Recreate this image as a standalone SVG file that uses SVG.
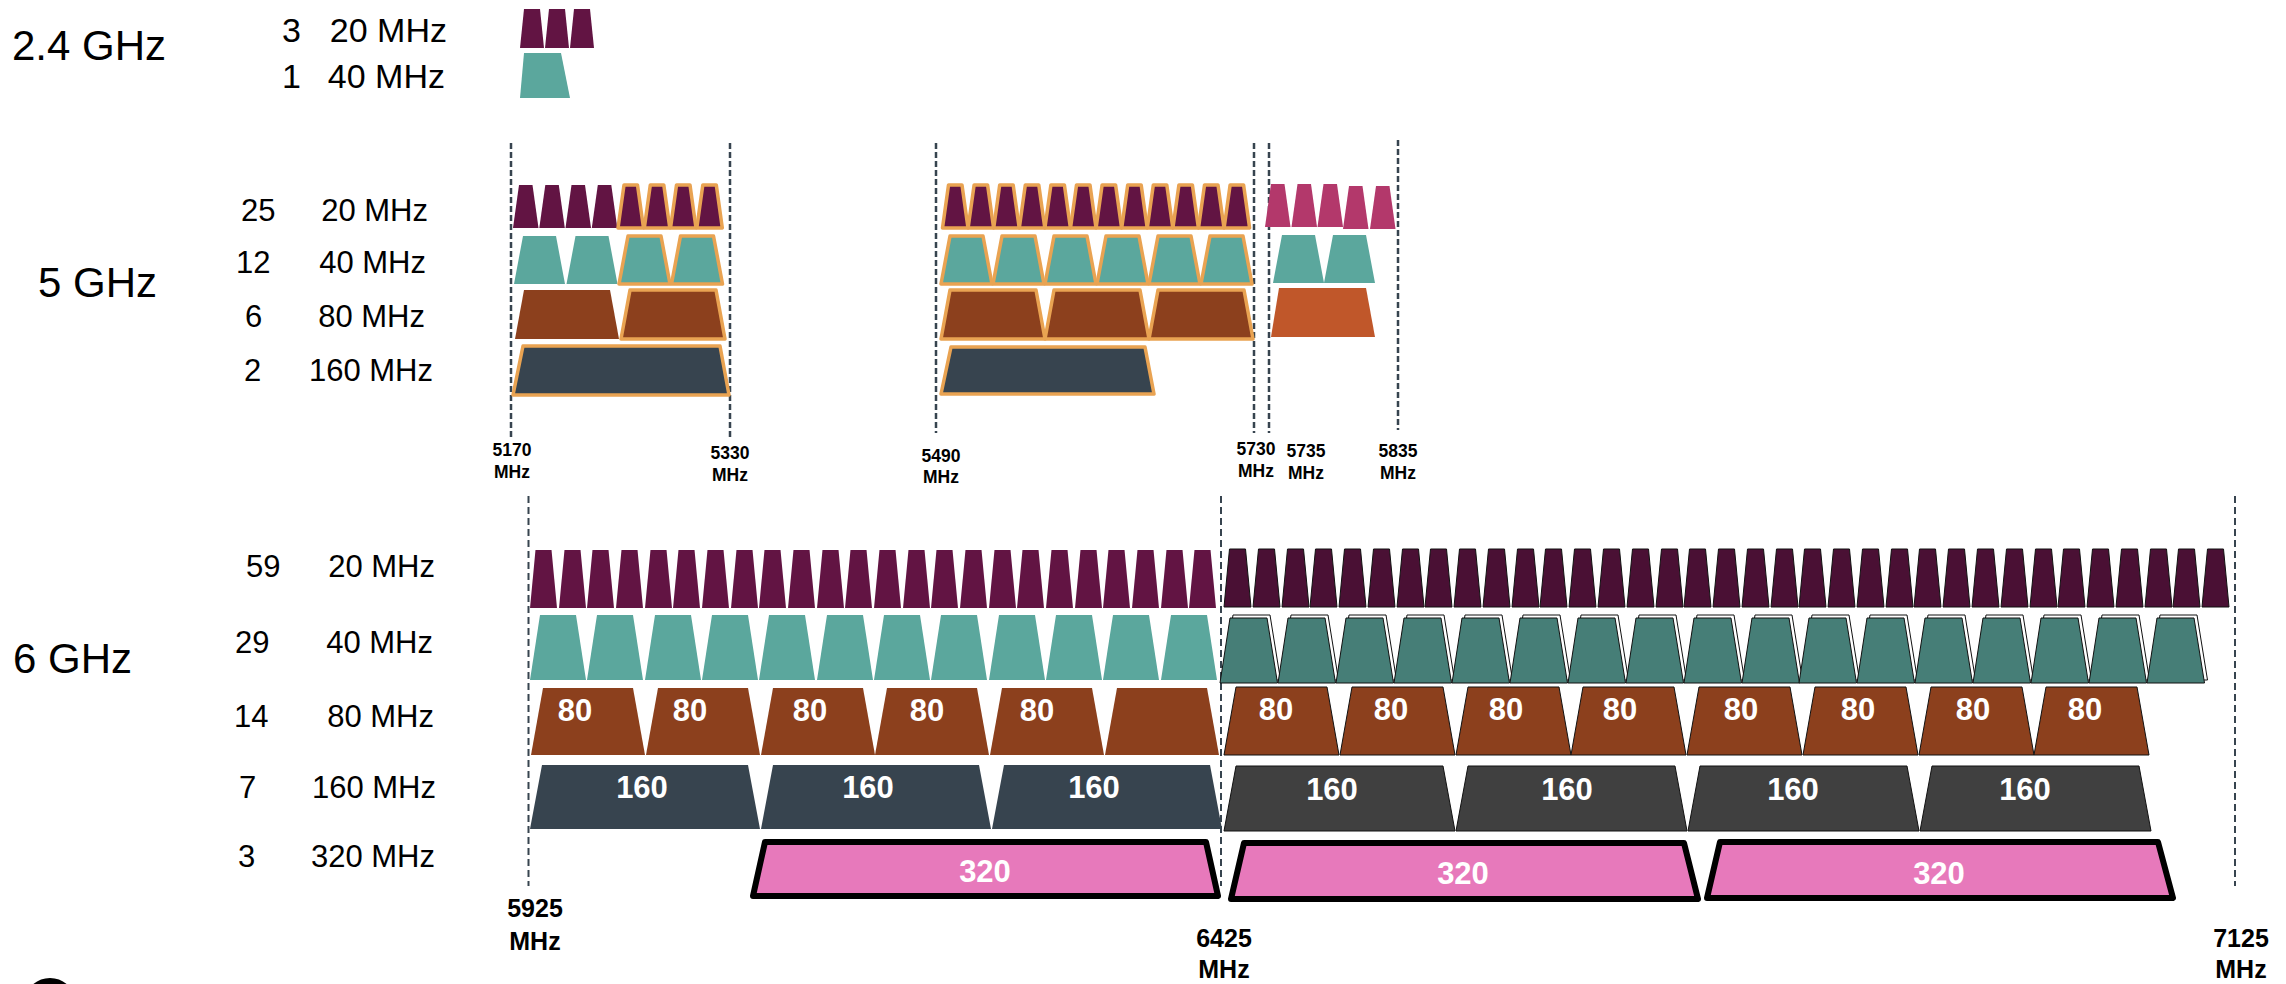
<svg xmlns="http://www.w3.org/2000/svg" width="2286" height="984" viewBox="0 0 2286 984">
<style>
.p{fill:#621443}
.pd{fill:#4A1034;stroke:#111;stroke-width:1}
.t{fill:#5BA79D}
.td{fill:#467E77;stroke:#111;stroke-width:1}
.sh{fill:#fff;stroke:#111;stroke-width:1}
.b{fill:#8C401D}
.bd{fill:#8C401D;stroke:#111;stroke-width:1}
.d{fill:#37444F}
.dd{fill:#404040;stroke:#111;stroke-width:1}
.o{stroke:#E9A352;stroke-width:3.5;stroke-linejoin:round}
.pk{fill:#B3386B}
.or{fill:#C0572A}
.x{fill:#E779BB;stroke:#000;stroke-width:6;stroke-linejoin:round}
.g5{stroke:#37444F;stroke-width:2.5;stroke-dasharray:6 3;fill:none}
.g6{stroke:#37444F;stroke-width:2;stroke-dasharray:7 4;fill:none}
.band{font-family:"Liberation Sans",Arial,sans-serif;font-size:42px;fill:#000}
.lab{font-family:"Liberation Sans",Arial,sans-serif;font-size:31px;fill:#000}
.lr{font-family:"Liberation Sans",Arial,sans-serif;font-size:31px;fill:#000;text-anchor:end}
.lab24{font-family:"Liberation Sans",Arial,sans-serif;font-size:34px;fill:#000}
.lr24{font-family:"Liberation Sans",Arial,sans-serif;font-size:34px;fill:#000;text-anchor:end}
.f5{font-family:"Liberation Sans",Arial,sans-serif;font-size:17.5px;font-weight:bold;fill:#000;text-anchor:middle}
.f6{font-family:"Liberation Sans",Arial,sans-serif;font-size:25px;font-weight:bold;fill:#000;text-anchor:middle}
.w{font-family:"Liberation Sans",Arial,sans-serif;font-size:31px;font-weight:bold;fill:#fff;text-anchor:middle}
</style>
<defs>
<polygon id="a20" points="0,39 4,0 20,0 24,39"/>
<polygon id="f20" points="0,43 6,0 19.5,0 25.5,43"/>
<polygon id="f40" points="0,48 9,0 42,0 51,48"/>
<polygon id="f80" points="0,49 9,0 95,0 104,49"/>
<polygon id="s20" points="0,58 5.5,0 21.5,0 27,58"/>
<polygon id="s40" points="0,65 10,0 46,0 56,65"/>
<g id="s40u"><polygon class="sh" points="3,62 13,-3 50,-3 60.5,62"/><polygon class="td" points="0,65 10,0 47,0 57.5,65"/></g>
<polygon id="s80" points="0,67 12,0 102,0 114,67"/>
<polygon id="s80u" points="0,68 12,0 103,0 115,68"/>
<polygon id="s160" points="0,64 12,0 218,0 230,64"/>
<polygon id="s160u" points="0,65 12,0 219,0 231,65"/>
</defs>
<rect width="2286" height="984" fill="#fff"/>

<g id="guides">
<line class="g5" x1="511" y1="143" x2="511" y2="437"/>
<line class="g5" x1="730" y1="143" x2="730" y2="437"/>
<line class="g5" x1="936" y1="143" x2="936" y2="433"/>
<line class="g5" x1="1254" y1="143" x2="1254" y2="433"/>
<line class="g5" x1="1269" y1="143" x2="1269" y2="433"/>
<line class="g5" x1="1398" y1="140" x2="1398" y2="430"/>
<line class="g6" x1="528.5" y1="496" x2="528.5" y2="886"/>
<line class="g6" x1="1221" y1="496" x2="1221" y2="886"/>
<line class="g6" x1="2235" y1="496" x2="2235" y2="886"/>
</g>

<g id="band-24">
<text class="band" x="12" y="60">2.4 GHz</text>
<g id="b24-20">
<text class="lab24" x="282" y="42">3</text><text class="lr24" x="447" y="42">20 MHz</text>
<use href="#a20" class="p" x="520" y="9"/><use href="#a20" class="p" x="545" y="9"/><use href="#a20" class="p" x="570" y="9"/>
</g>
<g id="b24-40">
<text class="lab24" x="282" y="88">1</text><text class="lr24" x="445" y="88">40 MHz</text>
<polygon class="t" points="520,98 524,53 561,53 570,98"/>
</g>
</g>

<g id="band-5">
<text class="band" x="38" y="297">5 GHz</text>
<g id="b5-20">
<text class="lab" x="241" y="221">25</text><text class="lr" x="428" y="221">20 MHz</text>
<use href="#f20" class="p" x="513" y="185"/><use href="#f20" class="p" x="539.3" y="185"/><use href="#f20" class="p" x="565.5" y="185"/><use href="#f20" class="p" x="591.8" y="185"/>
<use href="#f20" class="p o" x="618" y="185"/><use href="#f20" class="p o" x="644.3" y="185"/><use href="#f20" class="p o" x="670.5" y="185"/><use href="#f20" class="p o" x="696.8" y="185"/>
<use href="#f20" class="p o" x="942.5" y="185"/><use href="#f20" class="p o" x="968.1" y="185"/><use href="#f20" class="p o" x="993.7" y="185"/><use href="#f20" class="p o" x="1019.3" y="185"/><use href="#f20" class="p o" x="1044.9" y="185"/><use href="#f20" class="p o" x="1070.5" y="185"/><use href="#f20" class="p o" x="1096.1" y="185"/><use href="#f20" class="p o" x="1121.7" y="185"/><use href="#f20" class="p o" x="1147.3" y="185"/><use href="#f20" class="p o" x="1172.9" y="185"/><use href="#f20" class="p o" x="1198.5" y="185"/><use href="#f20" class="p o" x="1224.1" y="185"/>
<use href="#f20" class="pk" x="1265" y="184"/><use href="#f20" class="pk" x="1291.5" y="184"/><use href="#f20" class="pk" x="1317.5" y="184"/><use href="#f20" class="pk" x="1343" y="186"/><use href="#f20" class="pk" x="1370" y="186"/>
</g>
<g id="b5-40">
<text class="lab" x="236" y="273">12</text><text class="lr" x="426" y="273">40 MHz</text>
<use href="#f40" class="t" x="514" y="236"/><use href="#f40" class="t" x="566.5" y="236"/>
<use href="#f40" class="t o" x="619" y="236"/><use href="#f40" class="t o" x="671.5" y="236"/>
<use href="#f40" class="t o" x="941" y="236"/><use href="#f40" class="t o" x="993" y="236"/><use href="#f40" class="t o" x="1045" y="236"/><use href="#f40" class="t o" x="1097" y="236"/><use href="#f40" class="t o" x="1149" y="236"/><use href="#f40" class="t o" x="1201" y="236"/>
<use href="#f40" class="t" x="1273" y="235"/><use href="#f40" class="t" x="1324" y="235"/>
</g>
<g id="b5-80">
<text class="lab" x="245" y="327">6</text><text class="lr" x="425" y="327">80 MHz</text>
<use href="#f80" class="b" x="515" y="290"/><use href="#f80" class="b o" x="621" y="290"/>
<use href="#f80" class="b o" x="941" y="290"/><use href="#f80" class="b o" x="1045" y="290"/><use href="#f80" class="b o" x="1149" y="290"/>
<polygon class="or" points="1271,337 1279,288 1366,288 1375,337"/>
</g>
<g id="b5-160">
<text class="lab" x="244" y="381">2</text><text class="lr" x="433" y="381">160 MHz</text>
<polygon class="d o" points="513,395 523,346 720,346 729,395"/>
<polygon class="d o" points="941,394 951,347 1145,347 1154,394"/>
</g>
<g id="b5-freq">
<text class="f5" x="512" y="456">5170</text><text class="f5" x="512" y="478">MHz</text>
<text class="f5" x="730" y="459">5330</text><text class="f5" x="730" y="481">MHz</text>
<text class="f5" x="941" y="462">5490</text><text class="f5" x="941" y="483">MHz</text>
<text class="f5" x="1256" y="455">5730</text><text class="f5" x="1256" y="477">MHz</text>
<text class="f5" x="1306" y="457">5735</text><text class="f5" x="1306" y="479">MHz</text>
<text class="f5" x="1398" y="457">5835</text><text class="f5" x="1398" y="479">MHz</text>
</g>
</g>

<g id="band-6">
<text class="band" x="13" y="673">6 GHz</text>
<g id="b6-20">
<text class="lab" x="246" y="577">59</text><text class="lr" x="435" y="577">20 MHz</text>
<use href="#s20" class="p" x="530" y="550"/><use href="#s20" class="p" x="559" y="550"/><use href="#s20" class="p" x="587" y="550"/><use href="#s20" class="p" x="616" y="550"/><use href="#s20" class="p" x="645" y="550"/><use href="#s20" class="p" x="673" y="550"/><use href="#s20" class="p" x="702" y="550"/><use href="#s20" class="p" x="731" y="550"/><use href="#s20" class="p" x="759" y="550"/><use href="#s20" class="p" x="788" y="550"/><use href="#s20" class="p" x="817" y="550"/><use href="#s20" class="p" x="845" y="550"/><use href="#s20" class="p" x="874" y="550"/><use href="#s20" class="p" x="903" y="550"/><use href="#s20" class="p" x="931" y="550"/><use href="#s20" class="p" x="960" y="550"/><use href="#s20" class="p" x="989" y="550"/><use href="#s20" class="p" x="1017" y="550"/><use href="#s20" class="p" x="1046" y="550"/><use href="#s20" class="p" x="1075" y="550"/><use href="#s20" class="p" x="1103" y="550"/><use href="#s20" class="p" x="1132" y="550"/><use href="#s20" class="p" x="1161" y="550"/><use href="#s20" class="p" x="1189" y="550"/>
<use href="#s20" class="pd" x="1224" y="549"/><use href="#s20" class="pd" x="1253" y="549"/><use href="#s20" class="pd" x="1282" y="549"/><use href="#s20" class="pd" x="1310" y="549"/><use href="#s20" class="pd" x="1339" y="549"/><use href="#s20" class="pd" x="1368" y="549"/><use href="#s20" class="pd" x="1397" y="549"/><use href="#s20" class="pd" x="1425" y="549"/><use href="#s20" class="pd" x="1454" y="549"/><use href="#s20" class="pd" x="1483" y="549"/><use href="#s20" class="pd" x="1512" y="549"/><use href="#s20" class="pd" x="1540" y="549"/><use href="#s20" class="pd" x="1569" y="549"/><use href="#s20" class="pd" x="1598" y="549"/><use href="#s20" class="pd" x="1627" y="549"/><use href="#s20" class="pd" x="1656" y="549"/><use href="#s20" class="pd" x="1684" y="549"/><use href="#s20" class="pd" x="1713" y="549"/><use href="#s20" class="pd" x="1742" y="549"/><use href="#s20" class="pd" x="1771" y="549"/><use href="#s20" class="pd" x="1799" y="549"/><use href="#s20" class="pd" x="1828" y="549"/><use href="#s20" class="pd" x="1857" y="549"/><use href="#s20" class="pd" x="1886" y="549"/><use href="#s20" class="pd" x="1914" y="549"/><use href="#s20" class="pd" x="1943" y="549"/><use href="#s20" class="pd" x="1972" y="549"/><use href="#s20" class="pd" x="2001" y="549"/><use href="#s20" class="pd" x="2030" y="549"/><use href="#s20" class="pd" x="2058" y="549"/><use href="#s20" class="pd" x="2087" y="549"/><use href="#s20" class="pd" x="2116" y="549"/><use href="#s20" class="pd" x="2145" y="549"/><use href="#s20" class="pd" x="2173" y="549"/><use href="#s20" class="pd" x="2202" y="549"/>
</g>
<g id="b6-40">
<text class="lab" x="235" y="653">29</text><text class="lr" x="433" y="653">40 MHz</text>
<use href="#s40" class="t" x="530" y="615"/><use href="#s40" class="t" x="587" y="615"/><use href="#s40" class="t" x="645" y="615"/><use href="#s40" class="t" x="702" y="615"/><use href="#s40" class="t" x="759" y="615"/><use href="#s40" class="t" x="817" y="615"/><use href="#s40" class="t" x="874" y="615"/><use href="#s40" class="t" x="931" y="615"/><use href="#s40" class="t" x="989" y="615"/><use href="#s40" class="t" x="1046" y="615"/><use href="#s40" class="t" x="1103" y="615"/><use href="#s40" class="t" x="1161" y="615"/>
<use href="#s40u" x="1220" y="618"/><use href="#s40u" x="1278" y="618"/><use href="#s40u" x="1336" y="618"/><use href="#s40u" x="1394" y="618"/><use href="#s40u" x="1452" y="618"/><use href="#s40u" x="1510" y="618"/><use href="#s40u" x="1568" y="618"/><use href="#s40u" x="1626" y="618"/><use href="#s40u" x="1684" y="618"/><use href="#s40u" x="1742" y="618"/><use href="#s40u" x="1799" y="618"/><use href="#s40u" x="1857" y="618"/><use href="#s40u" x="1915" y="618"/><use href="#s40u" x="1973" y="618"/><use href="#s40u" x="2031" y="618"/><use href="#s40u" x="2089" y="618"/><use href="#s40u" x="2147" y="618"/>
</g>
<g id="b6-80">
<text class="lab" x="234" y="727">14</text><text class="lr" x="434" y="727">80 MHz</text>
<use href="#s80" class="b" x="531" y="688"/><use href="#s80" class="b" x="646" y="688"/><use href="#s80" class="b" x="761" y="688"/><use href="#s80" class="b" x="875" y="688"/><use href="#s80" class="b" x="990" y="688"/><use href="#s80" class="b" x="1105" y="688"/>
<use href="#s80u" class="bd" x="1224" y="687"/><use href="#s80u" class="bd" x="1340" y="687"/><use href="#s80u" class="bd" x="1456" y="687"/><use href="#s80u" class="bd" x="1571" y="687"/><use href="#s80u" class="bd" x="1687" y="687"/><use href="#s80u" class="bd" x="1803" y="687"/><use href="#s80u" class="bd" x="1919" y="687"/><use href="#s80u" class="bd" x="2034" y="687"/>
<text class="w" x="575" y="721">80</text><text class="w" x="690" y="721">80</text><text class="w" x="810" y="721">80</text><text class="w" x="927" y="721">80</text><text class="w" x="1037" y="721">80</text>
<text class="w" x="1276" y="720">80</text><text class="w" x="1391" y="720">80</text><text class="w" x="1506" y="720">80</text><text class="w" x="1620" y="720">80</text><text class="w" x="1741" y="720">80</text><text class="w" x="1858" y="720">80</text><text class="w" x="1973" y="720">80</text><text class="w" x="2085" y="720">80</text>
</g>
<g id="b6-160">
<text class="lab" x="239" y="798">7</text><text class="lr" x="436" y="798">160 MHz</text>
<use href="#s160" class="d" x="530" y="765"/><use href="#s160" class="d" x="761" y="765"/><use href="#s160" class="d" x="992" y="765"/>
<use href="#s160u" class="dd" x="1224" y="766"/><use href="#s160u" class="dd" x="1456" y="766"/><use href="#s160u" class="dd" x="1688" y="766"/><use href="#s160u" class="dd" x="1920" y="766"/>
<text class="w" x="642" y="798">160</text><text class="w" x="868" y="798">160</text><text class="w" x="1094" y="798">160</text>
<text class="w" x="1332" y="800">160</text><text class="w" x="1567" y="800">160</text><text class="w" x="1793" y="800">160</text><text class="w" x="2025" y="800">160</text>
</g>
<g id="b6-320">
<text class="lab" x="238" y="867">3</text><text class="lr" x="435" y="867">320 MHz</text>
<polygon class="x" points="753,896 765,842 1206,842 1218,896"/>
<polygon class="x" points="1231,899 1244,843 1684,843 1698,899"/>
<polygon class="x" points="1707,898 1720,842 2158,842 2173,898"/>
<text class="w" x="985" y="882">320</text><text class="w" x="1463" y="884">320</text><text class="w" x="1939" y="884">320</text>
</g>
<g id="b6-freq">
<text class="f6" x="535" y="917">5925</text><text class="f6" x="535" y="950">MHz</text>
<text class="f6" x="1224" y="947">6425</text><text class="f6" x="1224" y="978">MHz</text>
<text class="f6" x="2241" y="947">7125</text><text class="f6" x="2241" y="978">MHz</text>
</g>
</g>

<circle cx="50" cy="1004" r="23" fill="none" stroke="#000" stroke-width="6"/>
</svg>
